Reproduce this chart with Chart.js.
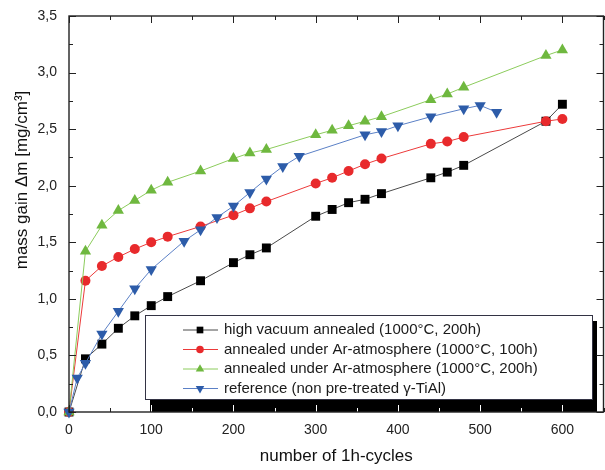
<!DOCTYPE html>
<html>
<head>
<meta charset="utf-8">
<script src="https://cdn.jsdelivr.net/npm/chart.js@4.4.0/dist/chart.umd.min.js"></script>
<style>
  html, body { margin: 0; padding: 0; background: #fff; overflow: hidden; }
  #wrap { width: 610px; height: 470px; }
</style>
</head>
<body>
<div id="wrap"><canvas id="chart" width="610" height="470"></canvas></div>
<script>
// data
const cycles = [0, 20, 40, 60, 80, 100, 120, 160, 200, 220, 240, 300, 320, 340, 360, 380, 440, 460, 480, 580, 600]
const gainVacuum = [0, 0.47, 0.60, 0.74, 0.85, 0.94, 1.02, 1.16, 1.32, 1.39, 1.45, 1.73, 1.79, 1.85, 1.88, 1.93, 2.07, 2.12, 2.18, 2.57, 2.72]
const gainAr100 = [0, 1.16, 1.29, 1.37, 1.44, 1.50, 1.55, 1.64, 1.74, 1.80, 1.86, 2.02, 2.07, 2.13, 2.19, 2.24, 2.37, 2.39, 2.43, 2.57, 2.59]
const gainAr200 = [0, 1.42, 1.65, 1.78, 1.87, 1.96, 2.03, 2.13, 2.24, 2.29, 2.32, 2.45, 2.49, 2.53, 2.57, 2.61, 2.76, 2.81, 2.87, 3.15, 3.20]
const cyclesRef = [0, 10, 20, 40, 60, 80, 100, 140, 160, 180, 200, 220, 240, 260, 280, 360, 380, 400, 440, 480, 500, 520]
const gainRef = [0, 0.30, 0.43, 0.69, 0.89, 1.09, 1.26, 1.51, 1.61, 1.72, 1.82, 1.94, 2.06, 2.17, 2.26, 2.45, 2.48, 2.53, 2.61, 2.68, 2.71, 2.65]

const labels = [
  'high vacuum annealed (1000°C, 200h)',
  'annealed under Ar-atmosphere (1000°C, 100h)',
  'annealed under Ar-atmosphere (1000°C, 200h)',
  'reference (non pre-treated γ-TiAl)'
]
const xTicks = [0, 100, 200, 300, 400, 500, 600]
const yTicks = [0, 0.5, 1, 1.5, 2, 2.5, 3, 3.5]

const font = "'Liberation Sans', Arial, sans-serif"
const pts = (xs, ys) => xs.map((c, i) => ({x: c, y: ys[i]}))

function series(label, data, line, mark, style, radius, rot, order) {
  return {
    label: label,
    data: data,
    borderColor: line,
    borderWidth: 1,
    backgroundColor: mark,
    pointBackgroundColor: mark,
    pointBorderColor: mark,
    pointBorderWidth: 0,
    pointStyle: style,
    pointRadius: radius,
    pointHoverRadius: radius,
    pointRotation: rot,
    tension: 0,
    clip: false,
    order: order
  }
}

const datasets = [
  series(labels[0], pts(cycles, gainVacuum), '#4a4a4a', '#000000', 'rect', 6.3, 0, 4),
  series(labels[1], pts(cycles, gainAr100), '#ec3a3a', '#e82a2c', 'circle', 5, 0, 3),
  series(labels[2], pts(cycles, gainAr200), '#8ccc5c', '#6fb83f', 'triangle', 6.5, 0, 2),
  series(labels[3], pts(cyclesRef, gainRef), '#5b80c6', '#2d5ca9', 'triangle', 6.5, 180, 1)
]

// frame with inner ticks on all four sides, y title, boxed legend with shadow
const decor = {
  id: 'decor',
  afterDraw(chart) {
    const {ctx, chartArea: a, scales: {x, y}} = chart
    const seg = (x1, y1, x2, y2) => { ctx.beginPath(); ctx.moveTo(x1, y1); ctx.lineTo(x2, y2); ctx.stroke() }
    const bx = 145, by = 315, bw = 447, bh = 84
    ctx.save()

    // y axis title
    ctx.save()
    ctx.translate(22, 180)
    ctx.rotate(-Math.PI / 2)
    ctx.fillStyle = '#111'
    ctx.font = '17px ' + font
    ctx.textAlign = 'center'
    ctx.textBaseline = 'middle'
    ctx.fillText('mass gain Δm [mg/cm³]', 0, 0)
    ctx.restore()

    // legend
    ctx.fillStyle = '#000'
    ctx.fillRect(bx + 5, by + 6, bw, a.bottom - by - 6)
    ctx.fillStyle = '#fff'
    ctx.fillRect(bx, by, bw, bh)
    ctx.strokeStyle = '#334'
    ctx.lineWidth = 1
    ctx.strokeRect(bx + 0.5, by + 0.5, bw, bh)
    ctx.font = '15px ' + font
    ctx.textBaseline = 'middle'
    ctx.textAlign = 'left'
    datasets.forEach((d, i) => {
      const ry = by + 15 + i * 19.5
      ctx.strokeStyle = d.borderColor
      ctx.lineWidth = 1
      seg(183, ry, 218, ry)
      ctx.fillStyle = d.pointBackgroundColor
      ctx.strokeStyle = d.pointBorderColor
      Chart.helpers.drawPoint(ctx, {
        pointStyle: d.pointStyle, rotation: d.pointRotation,
        radius: d.pointRadius * 0.75, borderWidth: 0
      }, 200, ry)
      ctx.fillStyle = '#1a1a1a'
      ctx.fillText(d.label, 224, ry)
    })

    // ticks (white where they cross the legend shadow)
    ctx.lineWidth = 1
    for (let v = 0; v <= 650; v += 50) {
      const px = Math.round(x.getPixelForValue(v)) + 0.5
      const len = v % 100 === 0 ? 7 : 4
      ctx.strokeStyle = (px > bx + 5 && px < bx + 5 + bw) ? '#fff' : '#222'
      seg(px, a.bottom, px, a.bottom - len)
      ctx.strokeStyle = '#222'
      seg(px, a.top, px, a.top + len)
    }
    for (let v = 0; v <= 3.5; v += 0.25) {
      const py = Math.round(y.getPixelForValue(v)) + 0.5
      const len = Math.abs(v * 2 - Math.round(v * 2)) < 1e-6 ? 7 : 4
      seg(a.left, py, a.left + len, py)
      seg(a.right, py, a.right - len, py)
    }

    ctx.strokeStyle = '#222'
    ctx.lineWidth = 1.4
    ctx.strokeRect(a.left, a.top, a.right - a.left, a.bottom - a.top)
    ctx.restore()
  }
}

const config = {
  type: 'line',
  data: {datasets: datasets},
  options: {
    responsive: false,
    animation: false,
    layout: {padding: {top: 16, right: 4, left: 0, bottom: 0}},
    plugins: {legend: {display: false}, tooltip: {enabled: false}},
    scales: {
      x: {
        type: 'linear',
        min: 0,
        max: 650,
        afterFit: s => { s.height = 58 },
        afterBuildTicks: s => { s.ticks = xTicks.map(v => ({value: v})) },
        grid: {display: false},
        border: {display: false},
        ticks: {color: '#222', font: {family: font, size: 14}, padding: 2, maxRotation: 0},
        title: {display: true, text: 'number of 1h-cycles', color: '#111',
          font: {family: font, size: 17}, padding: {top: 0, bottom: 3}}
      },
      y: {
        min: 0,
        max: 3.5,
        afterFit: s => { s.width = 69 },
        afterBuildTicks: s => { s.ticks = yTicks.map(v => ({value: v})) },
        grid: {display: false},
        border: {display: false},
        ticks: {color: '#222', font: {family: font, size: 14}, padding: 4,
          callback: v => v.toFixed(1).replace('.', ',')}
      }
    }
  },
  plugins: [decor]
}

const myChart = new Chart(document.getElementById('chart'), config)
</script>
</body>
</html>
